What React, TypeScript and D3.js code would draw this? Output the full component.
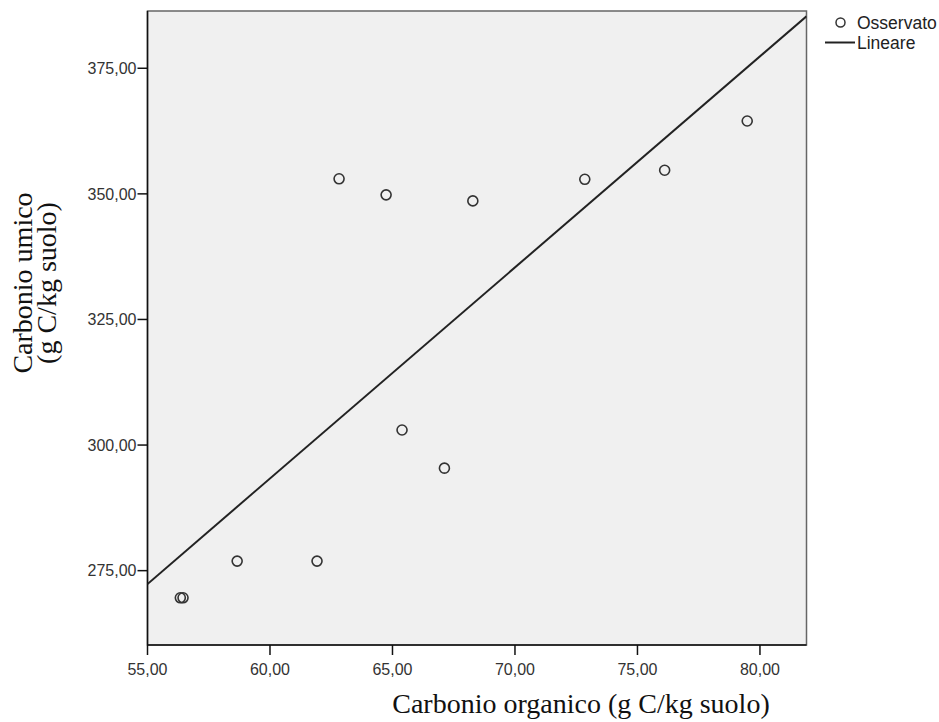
// Scatter plot: carbonio organico vs carbonio umico, con retta di regressione lineare
import { useEffect, useRef } from 'react';
import * as d3 from 'd3';

const carbonioOrganico = [56.34, 56.45, 58.66, 61.92, 62.82, 64.74, 65.39, 67.12, 68.28, 72.85, 76.11, 79.48];
const carbonioUmico = [269.6, 269.6, 276.9, 276.9, 353.0, 349.8, 303.0, 295.4, 348.6, 352.9, 354.7, 364.5];

// Tick degli assi
const xTicks = [55, 60, 65, 70, 75, 80];
const yTicks = [275, 300, 325, 350, 375];

const legendLabels = ['Osservato', 'Lineare'];

const W = 939;
const H = 722;

const fmt = (v: number) => v.toFixed(2).replace('.', ',');

const App = () => {
    const svgRef = useRef<SVGSVGElement | null>(null);

    useEffect(() => {
        document.body.style.margin = '0';
        const svg = d3.select(svgRef.current);
        svg.selectAll('*').remove();

        const left = 147.5, right = 806.5, top = 11, bottom = 645;
        const xScale = d3.scaleLinear().domain([55, 81.9]).range([left, right]);
        const yScale = d3.scaleLinear().domain([260.2, 386.4]).range([bottom, top]);

        // sfondo area grafico
        svg.append('rect')
            .attr('x', left).attr('y', top)
            .attr('width', right - left).attr('height', bottom - top)
            .attr('fill', '#f0f0f0')
            .attr('stroke', '#666')
            .attr('stroke-width', 1.5);

        svg.append('defs').append('clipPath').attr('id', 'plot-clip')
            .append('rect')
            .attr('x', left).attr('y', top)
            .attr('width', right - left).attr('height', bottom - top);

        // assi
        svg.append('line')
            .attr('x1', left).attr('x2', left).attr('y1', top).attr('y2', bottom)
            .attr('stroke', '#111').attr('stroke-width', 1.5);
        svg.append('line')
            .attr('x1', left).attr('x2', right).attr('y1', bottom).attr('y2', bottom)
            .attr('stroke', '#111').attr('stroke-width', 1.5);

        // tick asse y
        yTicks.forEach(t => {
            svg.append('line')
                .attr('x1', left - 10).attr('x2', left)
                .attr('y1', yScale(t)).attr('y2', yScale(t))
                .attr('stroke', '#111').attr('stroke-width', 1.5);
            svg.append('text')
                .attr('x', left - 11)
                .attr('y', yScale(t))
                .attr('dy', '0.36em')
                .attr('text-anchor', 'end')
                .attr('font-family', 'Liberation Sans, Arial, sans-serif')
                .attr('font-size', 16)
                .attr('fill', '#333')
                .text(fmt(t));
        });

        // tick asse x
        xTicks.forEach(t => {
            svg.append('line')
                .attr('x1', xScale(t)).attr('x2', xScale(t))
                .attr('y1', bottom).attr('y2', bottom + 10)
                .attr('stroke', '#111').attr('stroke-width', 1.5);
            svg.append('text')
                .attr('x', xScale(t))
                .attr('y', bottom + 30)
                .attr('text-anchor', 'middle')
                .attr('font-family', 'Liberation Sans, Arial, sans-serif')
                .attr('font-size', 16)
                .attr('fill', '#333')
                .text(fmt(t));
        });

        // retta di regressione (minimi quadrati sui dati)
        const mx = d3.mean(carbonioOrganico) as number;
        const my = d3.mean(carbonioUmico) as number;
        const sxy = d3.sum(carbonioOrganico, (x, i) => (x - mx) * (carbonioUmico[i] - my));
        const sxx = d3.sum(carbonioOrganico, x => (x - mx) * (x - mx));
        const slope = sxy / sxx;
        const intercept = my - slope * mx;
        const [x0, x1] = xScale.domain();
        const fitData = [x0, x1].map(x => ({ x, y: intercept + slope * x }));

        svg.append('path')
            .datum(fitData)
            .attr('clip-path', 'url(#plot-clip)')
            .attr('d', d3.line<{ x: number; y: number }>()
                .x(d => xScale(d.x))
                .y(d => yScale(d.y)))
            .attr('stroke', '#222')
            .attr('stroke-width', 2)
            .attr('fill', 'none');

        // punti osservati
        svg.append('g')
            .selectAll('circle')
            .data(carbonioOrganico.map((x, i) => ({ x, y: carbonioUmico[i] })))
            .join('circle')
            .attr('cx', d => xScale(d.x))
            .attr('cy', d => yScale(d.y))
            .attr('r', 5)
            .attr('fill', 'none')
            .attr('stroke', '#333')
            .attr('stroke-width', 1.6);

        // legenda
        const legend = svg.append('g');
        legend.append('circle')
            .attr('cx', 840.5).attr('cy', 22.5).attr('r', 4.5)
            .attr('fill', 'none').attr('stroke', '#333').attr('stroke-width', 1.5);
        legend.append('line')
            .attr('x1', 825).attr('x2', 855).attr('y1', 42.5).attr('y2', 42.5)
            .attr('stroke', '#222').attr('stroke-width', 2);
        legendLabels.forEach((lab, i) => {
            legend.append('text')
                .attr('x', 857)
                .attr('y', 28.5 + i * 20)
                .attr('font-family', 'Liberation Sans, Arial, sans-serif')
                .attr('font-size', 17.5)
                .attr('fill', '#222')
                .text(lab);
        });

        // titoli assi
        svg.append('text')
            .attr('x', 581)
            .attr('y', 713)
            .attr('text-anchor', 'middle')
            .attr('font-family', 'Liberation Serif, Times New Roman, serif')
            .attr('font-size', 28)
            .attr('fill', '#111')
            .text('Carbonio organico (g C/kg suolo)');

        const yTitle = svg.append('text')
            .attr('transform', 'translate(0,283) rotate(-90)')
            .attr('text-anchor', 'middle')
            .attr('font-family', 'Liberation Serif, Times New Roman, serif')
            .attr('font-size', 28)
            .attr('fill', '#111');
        yTitle.append('tspan').attr('x', 0).attr('y', 32).text('Carbonio umico');
        yTitle.append('tspan').attr('x', 0).attr('y', 56).text('(g C/kg suolo)');

        return () => { svg.selectAll('*').remove(); };
    }, []);

    return (
        <svg ref={svgRef} width={W} height={H} style={{ display: 'block', background: '#fff' }}></svg>
    );
};

export default App;
